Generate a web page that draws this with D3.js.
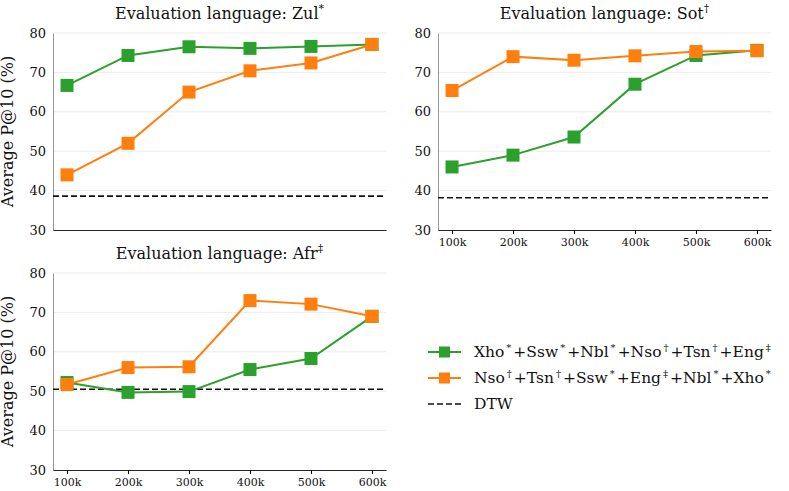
<!DOCTYPE html><html><head><script src="https://cdn.jsdelivr.net/npm/d3@7"></script>
<style>body{margin:0;background:#fff}text{font-family:"DejaVu Serif",serif;fill:#111}</style></head><body><svg id="c" width="789" height="491"></svg><script>
const xLabels=["100k","200k","300k","400k","500k","600k"];
const yTicks=[30,40,50,60,70,80];
const zulGreen=[66.7,74.3,76.5,76.1,76.6,77.1], zulOrange=[44,52,65,70.4,72.4,77.1], zulDTW=38.6;
const sotGreen=[46,49,53.6,67,74.3,75.6], sotOrange=[65.4,74,73.1,74.2,75.3,75.5], sotDTW=38.2;
const afrGreen=[52.2,49.7,49.9,55.5,58.3,69], afrOrange=[51.7,56,56.2,73,72.1,69], afrDTW=50.5;
const svg=d3.select("#c");
const G="#2ca02c",O="#ff7f0e";
function panel(x0,y0,title,sup,g,o,dtw,showX,showY){
 const w=333,h=197;
 const x=d3.scalePoint().domain(xLabels).range([0,w]).padding(0.23);
 const y=d3.scaleLinear().domain([30,80]).range([h,0]);
 const p=svg.append("g").attr("transform",`translate(${x0},${y0})`);
 p.selectAll(".gl").data(yTicks.slice(1)).join("line").attr("x1",0).attr("x2",w).attr("y1",y).attr("y2",y).attr("stroke","#ececec");
 const ya=p.append("g").call(d3.axisLeft(y).tickValues(yTicks).tickSize(0).tickPadding(7));
 ya.selectAll("text").style("font-size","13px");ya.select(".domain").attr("stroke","#999");
 const xa=p.append("g").attr("transform",`translate(0,${h})`).call(d3.axisBottom(x).tickSize(showX?4:0).tickSizeOuter(0).tickPadding(4));
 xa.select(".domain").attr("stroke","#222");
 if(!showX)xa.selectAll("text").remove(); else xa.selectAll("text").style("font-size","11px");
 p.append("line").attr("x1",0).attr("x2",w).attr("y1",y(dtw)).attr("y2",y(dtw)).attr("stroke","#111").attr("stroke-width",1.6).attr("stroke-dasharray","6,3");
 [[g,G],[o,O]].forEach(([d,c])=>{
  p.append("path").datum(d).attr("fill","none").attr("stroke",c).attr("stroke-width",2).attr("d",d3.line().x((v,i)=>x(xLabels[i])).y(v=>y(v)));
  p.selectAll(null).data(d).join("rect").attr("x",(v,i)=>x(xLabels[i])-6.5).attr("y",v=>y(v)-6.5).attr("width",13).attr("height",13).attr("fill",c);
 });
 const t=p.append("text").attr("x",w/2).attr("y",-14).attr("text-anchor","middle").style("font-size","16px").text(title);
 t.append("tspan").attr("dy",-7).style("font-size","11px").text(sup);
 if(showY)p.append("text").attr("transform",`translate(-40,${h/2}) rotate(-90)`).attr("text-anchor","middle").style("font-size","16px").text("Average P@10 (%)");
}
panel(53,33,"Evaluation language: Zul","*",zulGreen,zulOrange,zulDTW,false,true);
panel(438,33,"Evaluation language: Sot","†",sotGreen,sotOrange,sotDTW,true,false);
panel(53,273,"Evaluation language: Afr","‡",afrGreen,afrOrange,afrDTW,true,true);
const leg=[["Xho","*","+Ssw","*","+Nbl","*","+Nso","†","+Tsn","†","+Eng","‡"],["Nso","†","+Tsn","†","+Ssw","*","+Eng","‡","+Nbl","*","+Xho","*"]];
const L=svg.append("g").attr("transform","translate(428,0)");
[[G,352],[O,378]].forEach(([c,yy],k)=>{
 L.append("line").attr("x1",0).attr("x2",33).attr("y1",yy).attr("y2",yy).attr("stroke",c).attr("stroke-width",2);
 L.append("rect").attr("x",11).attr("y",yy-5.5).attr("width",11).attr("height",11).attr("fill",c);
 const t=L.append("text").attr("x",46).attr("y",yy+5).style("font-size","15.5px");
 leg[k].forEach((s,i)=>t.append("tspan").attr("dy",i%2? -6: (i?6:0)).style("font-size",i%2?"10px":"15.5px").text(i%2?"\u2009"+s+"\u2009":s));
});
L.append("line").attr("x1",0).attr("x2",33).attr("y1",404).attr("y2",404).attr("stroke","#111").attr("stroke-width",1.6).attr("stroke-dasharray","6,3");
L.append("text").attr("x",46).attr("y",409).style("font-size","15.5px").text("DTW");
</script></body></html>
